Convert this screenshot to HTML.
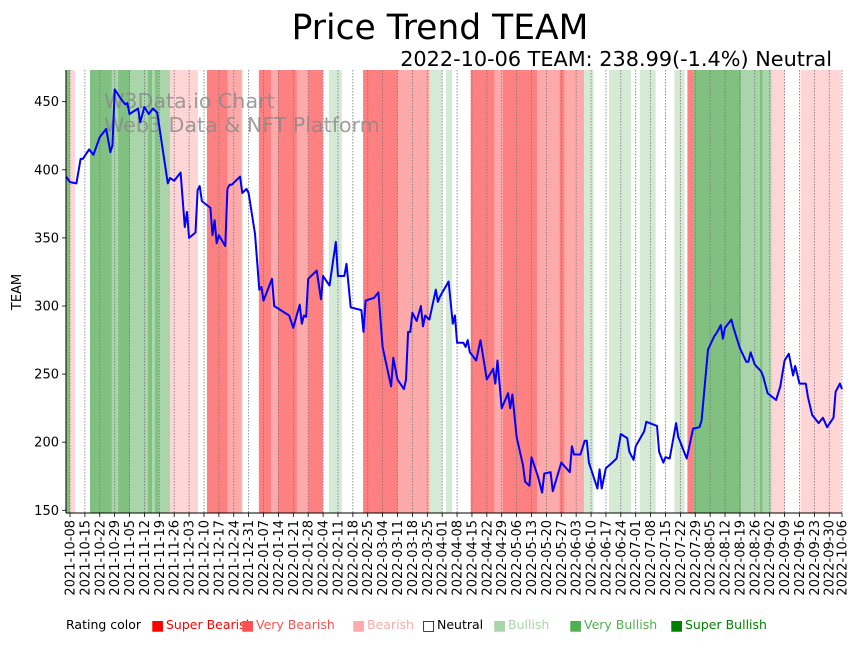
<!DOCTYPE html>
<html><head><meta charset="utf-8"><style>
body{margin:0;background:#fff;font-family:"Liberation Sans","DejaVu Sans",sans-serif;}
svg text{font-family:"DejaVu Sans","Liberation Sans",sans-serif;}
</style></head><body>
<svg id="chart" width="859" height="641" viewBox="0 0 859 641" xmlns="http://www.w3.org/2000/svg">
<text x="440" y="39" text-anchor="middle" font-size="34.5" fill="#000">Price Trend TEAM</text>
<text x="832" y="66" text-anchor="end" font-size="20.8" fill="#000">2022-10-06 TEAM: 238.99(-1.4%) Neutral</text>
<g id="bands"></g>
<g id="grid"></g>
<text x="104" y="108" font-size="20.6" fill="#888" fill-opacity="0.8">W3Data.io Chart</text>
<text x="104" y="132" font-size="20.6" fill="#888" fill-opacity="0.8">Web3 Data &amp; NFT Platform</text>
<path id="priceLine" fill="none" stroke="#0000ff" stroke-width="2" stroke-linejoin="round"/>
<g id="axes"></g>
<text transform="translate(21,292) rotate(-90)" text-anchor="middle" font-size="13">TEAM</text>
<g id="legend"></g>
</svg>
<script>
// days since 2021-10-08
const days=[-2,0,3,5,6,9,11,14,17,19,20,21,24,26,27,28,32,33,35,37,39,41,46,47,49,52,54,55,56,59,60,61,62,66,67,68,69,70,73,74,75,76,80,81,83,84,87,89,90,91,95,96,103,105,108,109,110,111,112,116,118,119,122,125,126,129,130,132,137,138,139,143,145,147,151,152,154,157,158,159,160,161,163,165,166,167,169,172,173,174,178,180,181,182,185,186,187,188,191,193,196,199,200,201,203,206,207,208,210,213,214,216,217,220,222,223,226,227,231,235,236,237,240,242,243,244,248,249,250,252,255,257,259,262,263,265,266,270,271,276,277,279,280,282,285,286,290,293,296,297,300,303,304,306,307,308,311,312,315,318,319,320,322,325,326,328,332,334,336,338,340,341,343,346,347,349,352,354,356,359,360,362,363];
const prices=[395,391,390,408,408,415,411,424,430,413,418,459,452,448,449,441,445,435,446,441,445,442,390,394,392,398,358,369,350,354,385,388,377,372,352,363,346,352,344,386,389,389,395,383,386,383,353,312,314,304,320,300,293,284,301,287,293,292,320,326,305,322,315,347,322,322,331,299,297,281,304,306,310,270,241,262,246,239,246,281,281,295,289,300,285,293,290,312,303,307,318,287,293,273,273,270,275,266,260,275,246,254,243,260,225,236,225,235,204,183,171,168,189,175,163,177,178,164,185,178,197,191,191,201,201,185,166,180,166,181,185,188,206,203,193,187,197,208,215,212,193,185,189,188,214,204,188,210,211,216,268,278,280,286,276,284,290,284,269,259,259,266,257,252,248,236,231,241,260,265,249,256,243,243,233,220,214,218,211,218,237,243,239];
const bandStart=[-2,0,9.4,19.7,22.6,28.2,36.7,38.6,40,41.8,47,64.4,74.2,80.8,88.8,94.5,97.8,106.7,112,121.7,137.8,154,169,176.8,188.4,199.7,203.6,219.6,230.2,232.6,241.7,253.4,267.9,284.2,290.3,293.2,315.5,324.3,325.6,329.9,343.5];
const bandEnd=[0,2.4,19.7,22.6,28.2,36.7,38.6,40,41.8,47,60.2,74.2,80.8,81.3,94.5,97.8,106.7,112,118.9,127.8,154,169,175,179.7,199.7,203.6,219.6,230.2,232.6,241.7,246.2,263.8,275.4,289,293.2,315.5,324.3,325.6,329.9,336,362.5];
const bandLevel=["D","p","D","G","D","G","D","G","D","G","p","R","r","g","R","r","R","r","R","g","R","r","g","g","R","r","R","r","R","r","g","g","g","g","R","D","G","D","G","p","p"];
const yTicks=[150,200,250,300,350,400,450];
const xLabels=["2021-10-08","2021-10-15","2021-10-22","2021-10-29","2021-11-05","2021-11-12","2021-11-19","2021-11-26","2021-12-03","2021-12-10","2021-12-17","2021-12-24","2021-12-31","2022-01-07","2022-01-14","2022-01-21","2022-01-28","2022-02-04","2022-02-11","2022-02-18","2022-02-25","2022-03-04","2022-03-11","2022-03-18","2022-03-25","2022-04-01","2022-04-08","2022-04-15","2022-04-22","2022-04-29","2022-05-06","2022-05-13","2022-05-20","2022-05-27","2022-06-03","2022-06-10","2022-06-17","2022-06-24","2022-07-01","2022-07-08","2022-07-15","2022-07-22","2022-07-29","2022-08-05","2022-08-12","2022-08-19","2022-08-26","2022-09-02","2022-09-09","2022-09-16","2022-09-23","2022-09-30","2022-10-06"];
const xLabelDays=xLabels.map((s,i)=>i<52?i*7:363);

const NS="http://www.w3.org/2000/svg";
const L=66,R=842,T=70,B=513;
const X=d=>70+d*(772/363);
const Y=v=>101.7+(450-v)*1.362;
const colors={R:"#ff8080",r:"#ffaaaa",p:"#ffd5d5",g:"#d5ead5",G:"#aad5aa",D:"#80c080"};
function mk(tag,attrs,parent){const e=document.createElementNS(NS,tag);for(const k in attrs)e.setAttribute(k,attrs[k]);parent.appendChild(e);return e;}

const bands=document.getElementById('bands');
bandStart.forEach((s,i)=>{
  const x0=Math.max(L,X(s)),x1=Math.min(R,X(bandEnd[i]));
  const r=mk('rect',{x:x0,y:T,width:Math.max(0,x1-x0),height:B-T,fill:colors[bandLevel[i]]},bands);
  
  
});
const grid=document.getElementById('grid');
const axes=document.getElementById('axes');
xLabelDays.forEach((d,i)=>{
  const x=X(d);
  const gl=mk('line',{x1:x,x2:x,y1:T,y2:B,stroke:"#777",'stroke-width':0.8,'stroke-dasharray':"1.5,1.5"},grid);
  
  
  mk('line',{x1:x,x2:x,y1:B,y2:B+4,stroke:"#000",'stroke-width':0.8},axes);
  const t=mk('text',{transform:`translate(${x+4.5},${B+7}) rotate(-90)`,'text-anchor':'end','font-size':13},axes);
  t.textContent=xLabels[i];
  
  
});
yTicks.forEach(v=>{
  const y=Y(v);
  mk('line',{x1:L-4,x2:L,y1:y,y2:y,stroke:"#000",'stroke-width':0.8},axes);
  const t=mk('text',{x:L-7,y:y+4.5,'text-anchor':'end','font-size':13},axes);
  t.textContent=v;
  
  
});
mk('line',{x1:L,x2:L,y1:T,y2:B,stroke:"#000",'stroke-width':1},axes);
mk('line',{x1:L,x2:R,y1:B,y2:B,stroke:"#000",'stroke-width':1},axes);

let d="";
days.forEach((dd,i)=>{d+=(i?"L":"M")+Math.max(L,X(dd)).toFixed(1)+","+Y(prices[i]).toFixed(1);});
document.getElementById('priceLine').setAttribute('d',d);

const legend=document.getElementById('legend');
const legNames=["Super Bearish","Very Bearish","Bearish","Neutral","Bullish","Very Bullish","Super Bullish"];
const legColors=["#ff0000","#ff5050","#ffaaaa","#000000","#aad5aa","#50b050","#008000"];
const legX=[151,241,352,422,493,569,670];
const lt=mk('text',{x:66,y:629,'font-size':12.5},legend);
lt.textContent="Rating color";


legNames.forEach((n,i)=>{
  const t=mk('text',{x:legX[i]+15,y:629,'font-size':12.5,fill:legColors[i]},legend);
  t.textContent=n;
  
  
});
legNames.forEach((n,i)=>{
  const sq=mk('text',{x:legX[i],y:630,'font-size':14,fill:i==3?"#000":legColors[i]},legend);
  sq.textContent=i==3?"□":"■";
  
  
});
</script>
</body></html>
